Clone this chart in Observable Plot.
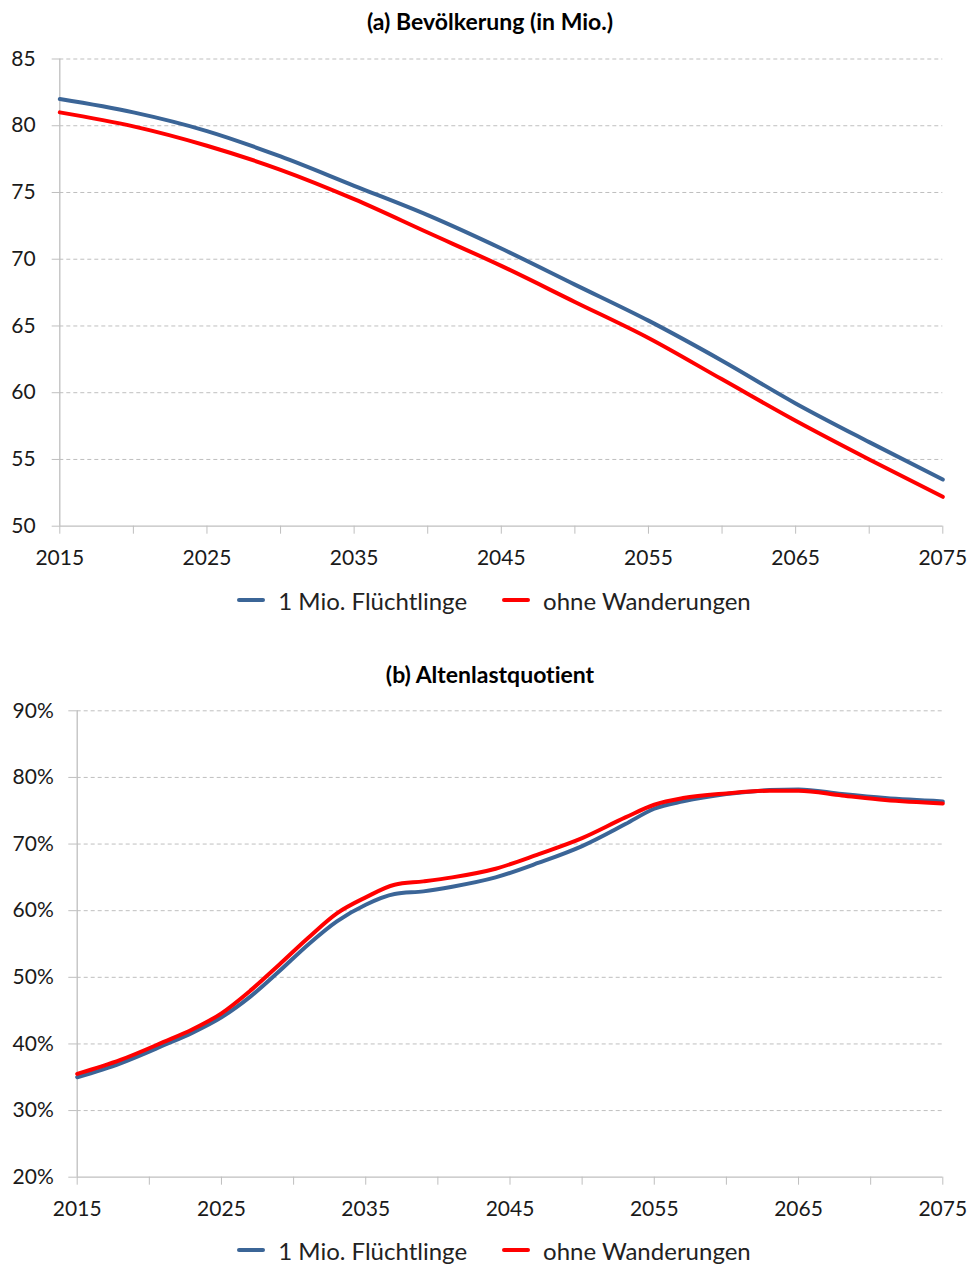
<!DOCTYPE html>
<html><head><meta charset="utf-8">
<script src="https://cdn.jsdelivr.net/npm/d3@7"></script>
<script src="https://cdn.jsdelivr.net/npm/@observablehq/plot@0.6"></script>
<style>
body{margin:0;background:#fff;font-family:Lato,"Open Sans",sans-serif;font-variant-ligatures:none;}
#wrap{width:971px;}
.title{height:40px;line-height:42px;text-align:center;font-weight:bold;font-size:23px;color:#000;padding-left:9px;box-sizing:border-box;}
.legend{height:40px;display:flex;justify-content:center;align-items:center;font-size:24px;color:#222;padding-left:17px;box-sizing:border-box;}
.sw{width:28px;height:4px;border-radius:2px;display:inline-block;margin-right:13px;}
.item{display:flex;align-items:center;}
.gap{width:35px;}
.spacer{height:33px;}
svg{display:block;font-variant-ligatures:none;}
</style></head><body><div id="wrap"></div>
<script>
const seriesNames = ["1 Mio. Flüchtlinge", "ohne Wanderungen"];
const titleA = "(a) Bevölkerung (in Mio.)";
const titleB = "(b) Altenlastquotient";

const yearsA = [2015,2020,2025,2030,2035,2040,2045,2050,2055,2060,2065,2070,2075];
const popRefugees    = [82.0,81.0,79.6,77.7,75.5,73.3,70.8,68.1,65.4,62.4,59.2,56.3,53.5];
const popNoMigration = [81.0,79.95,78.5,76.7,74.5,72.0,69.5,66.8,64.1,61.0,57.9,55.0,52.2];

const yearsB = [2015,2018,2021,2023,2025,2027,2029,2031,2033,2035,2037,2039,2041,2044,2047,2050,2053,2055,2057,2060,2063,2065,2068,2071,2075];
const oadrRefugees    = [35.0,37.1,39.8,41.7,44.0,47.1,50.9,54.9,58.4,60.9,62.5,62.9,63.6,65.0,67.2,69.7,73.0,75.3,76.4,77.5,78.1,78.2,77.5,76.9,76.4];
const oadrNoMigration = [35.5,37.6,40.3,42.2,44.6,48.0,51.9,55.9,59.6,62.0,63.9,64.4,65.0,66.3,68.5,70.9,74.0,75.9,76.9,77.6,78.0,78.0,77.3,76.6,76.1];

const yTicksA = [50,55,60,65,70,75,80,85];
const yTicksB = [20,30,40,50,60,70,80,90];
const xTicks = [2015,2020,2025,2030,2035,2040,2045,2050,2055,2060,2065,2070,2075];
const xLabelEvery = 10;

const blue = "#3B6597", red = "#FF0000", grid = "#BFBFBF";

function chart({years, s1, s2, yTicks, yFmt, mL, mT, mB, h, tickSizeY, padY}) {
  const d1 = years.map((x,i)=>({x, y:s1[i]}));
  const d2 = years.map((x,i)=>({x, y:s2[i]}));
  const y0 = yTicks[0], y1 = yTicks[yTicks.length-1];
  return Plot.plot({
    width: 971, height: h,
    marginLeft: mL, marginRight: 28.7, marginTop: mT, marginBottom: mB,
    style: {fontFamily: "Lato, 'Open Sans', sans-serif", fontSize: "21px", color: "#1a1a1a", background: "#fff", overflow: "visible"},
    x: {domain: [xTicks[0], xTicks[xTicks.length-1]]},
    y: {domain: [y0, y1]},
    marks: [
      Plot.ruleY(yTicks.slice(1), {x1: xTicks[0], x2: xTicks[xTicks.length-1], stroke: grid, strokeWidth: 1, strokeDasharray: "4,3"}),
      Plot.ruleX([xTicks[0]], {stroke: grid, strokeWidth: 1.3}),
      Plot.ruleY([y0], {stroke: grid, strokeWidth: 1.3}),
      Plot.axisY({ticks: yTicks, tickSize: tickSizeY, tickPadding: padY, tickFormat: yFmt, stroke: grid, label: null}),
      Plot.axisX({ticks: xTicks, tickSize: 8, tickPadding: 16, stroke: grid, label: null,
        tickFormat: d => ((d - xTicks[0]) % xLabelEvery === 0 ? String(d) : "")}),
      Plot.line(d1, {x: "x", y: "y", stroke: blue, strokeWidth: 4, curve: "monotone-x"}),
      Plot.line(d2, {x: "x", y: "y", stroke: red, strokeWidth: 4, curve: "monotone-x"})
    ]
  });
}

function el(tag, cls, text) { const e = document.createElement(tag); if (cls) e.className = cls; if (text) e.textContent = text; return e; }
function legend() {
  const L = el("div", "legend");
  [[blue, seriesNames[0]], [red, seriesNames[1]]].forEach(([c, t], i) => {
    if (i) L.appendChild(el("div", "gap"));
    const it = el("div", "item");
    const sw = el("span", "sw"); sw.style.background = c;
    it.appendChild(sw); it.appendChild(el("span", null, t));
    L.appendChild(it);
  });
  return L;
}

const wrap = document.getElementById("wrap");
wrap.appendChild(el("div", "title", titleA));
wrap.appendChild(chart({years: yearsA, s1: popRefugees, s2: popNoMigration, yTicks: yTicksA, yFmt: d => String(d),
  mL: 59.3, mT: 18.5, mB: 54.3, h: 540, tickSizeY: 7.6, padY: 16.5}));
wrap.appendChild(legend());
wrap.appendChild(el("div", "spacer"));
wrap.appendChild(el("div", "title", titleB));
wrap.appendChild(chart({years: yearsB, s1: oadrRefugees, s2: oadrNoMigration, yTicks: yTicksB, yFmt: d => d + "%",
  mL: 76.7, mT: 17.3, mB: 53.3, h: 537, tickSizeY: 8.4, padY: 15}));
wrap.appendChild(legend());
</script></body></html>
